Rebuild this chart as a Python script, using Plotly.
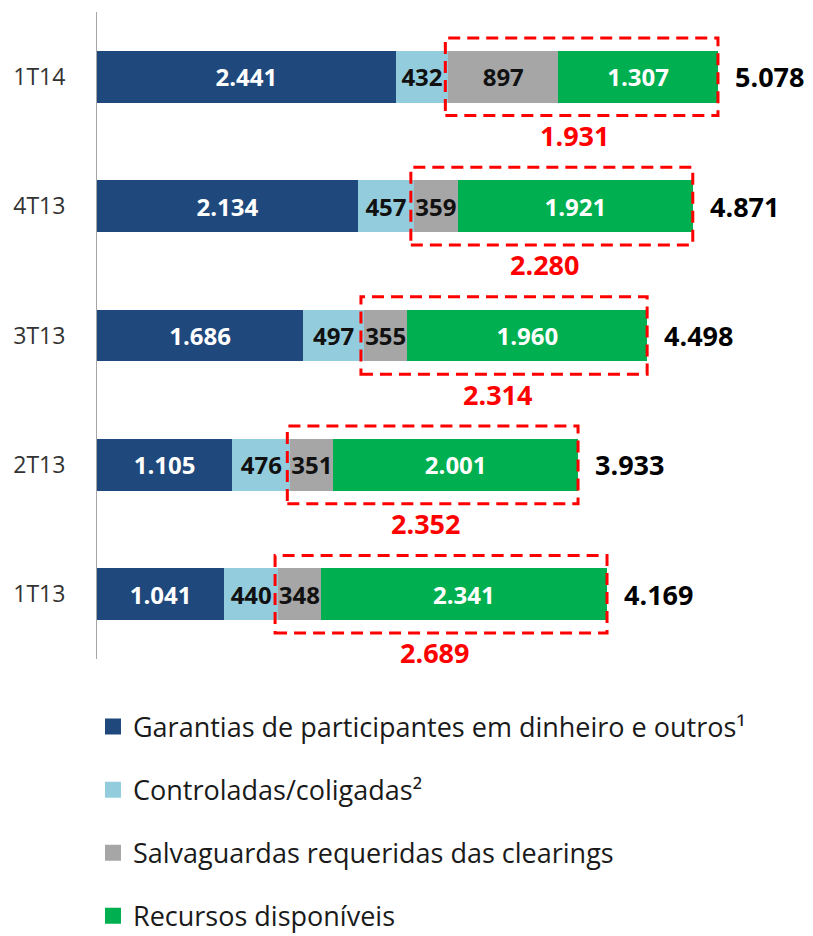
import plotly.graph_objects as go

categories = ["1T13", "2T13", "3T13", "4T13", "1T14"]
garantias = [1041, 1105, 1686, 2134, 2441]
controladas = [440, 476, 497, 457, 432]
salvaguardas = [348, 351, 355, 359, 897]
recursos = [2341, 2001, 1960, 1921, 1307]
totals = [4169, 3933, 4498, 4871, 5078]
box_labels = [2689, 2352, 2314, 2280, 1931]

series = [
    ("Garantias de participantes em dinheiro e outros¹", garantias, "#1F487C", "white"),
    ("Controladas/coligadas²", controladas, "#93CDDD", "#111111"),
    ("Salvaguardas requeridas das clearings", salvaguardas, "#A6A6A6", "#111111"),
    ("Recursos disponíveis", recursos, "#00B050", "white"),
]

FONT = "Open Sans"
fig = go.Figure()
for i, (name, vals, color, tcolor) in enumerate(series):
    fig.add_trace(go.Bar(
        y=categories, x=vals, name=name, orientation="h",
        marker=dict(color=color, line=dict(width=0)),
        width=0.4,
        texttemplate="%{x:,.0f}", textposition="inside", insidetextanchor="middle",
        textangle=0,
        insidetextfont=dict(family=FONT, size=24, color=tcolor, weight="bold"),
        showlegend=False, hoverinfo="skip",
    ))
    # legend entry with larger square swatch
    fig.add_trace(go.Scatter(
        x=[None], y=[None], mode="markers", name=name,
        marker=dict(symbol="square", size=16, color=color),
        legendgroup=f"g{i}", showlegend=True, hoverinfo="skip",
    ))

shapes = []
annotations = []
for idx, cat in enumerate(categories):
    start = garantias[idx] + controladas[idx]
    end = start + salvaguardas[idx] + recursos[idx]
    shapes.append(dict(
        type="rect", xref="x", yref="y",
        x0=start - 25, x1=end, y0=idx - 0.3, y1=idx + 0.3,
        line=dict(color="#FF0000", width=3, dash="12px,7px"),
        fillcolor="rgba(0,0,0,0)", layer="above",
    ))
    annotations.append(dict(
        x=end, y=idx, xref="x", yref="y", text=f"{totals[idx]:,}".replace(",", "."),
        showarrow=False, xanchor="left", xshift=15,
        font=dict(family=FONT, size=27, color="black", weight="bold"),
    ))
    annotations.append(dict(
        x=(start - 25 + end) / 2, y=idx - 0.453, xref="x", yref="y",
        text=f"{box_labels[idx]:,}".replace(",", "."),
        showarrow=False, xanchor="center", yanchor="middle", xshift=-7,
        font=dict(family=FONT, size=27, color="#FF0000", weight="bold"),
    ))

fig.update_layout(
    width=805, height=928,
    margin=dict(l=89, r=0, t=4, b=277, autoexpand=False),
    barmode="stack", bargap=0.6,
    separators=",.",
    plot_bgcolor="white", paper_bgcolor="white",
    uniformtext=dict(minsize=24, mode="show"),
    shapes=shapes, annotations=annotations,
    font=dict(family=FONT),
    showlegend=True,
    legend=dict(
        x=-0.0056, xanchor="left", y=-0.0672, yanchor="top",
        orientation="v", traceorder="grouped", tracegroupgap=25,
        font=dict(family=FONT, size=27, color="#1a1a1a"),
        bgcolor="rgba(0,0,0,0)", itemsizing="trace",
    ),
    xaxis=dict(visible=False, range=[0, 5854]),
    yaxis=dict(
        showline=True, linecolor="#A6A6A6", linewidth=1, showgrid=False,
        ticks="", ticklabelstandoff=26,
        tickfont=dict(family=FONT, size=23, color="#333333"),
        range=[-0.5, 4.5],
    ),
)

fig.write_html("out.html")
